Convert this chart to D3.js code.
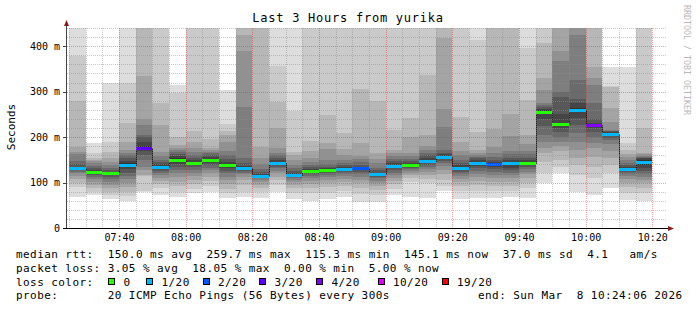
<!DOCTYPE html>
<html>
<head>
<meta charset="utf-8">
<script src="https://cdn.jsdelivr.net/npm/d3@7"></script>
<style>
  html, body { margin: 0; padding: 0; background: #fff; }
  svg { display: block; }
  text { font-family: "DejaVu Sans Mono", monospace; fill: #000; }
</style>
</head>
<body>
<svg id="chart" width="697" height="310"></svg>
<script>
// 5-minute steps, each column covers (end - 5 min, end]
const columnEnds = ["07:30", "07:35", "07:40", "07:45", "07:50", "07:55", "08:00", "08:05", "08:10", "08:15",
                    "08:20", "08:25", "08:30", "08:35", "08:40", "08:45", "08:50", "08:55", "09:00", "09:05",
                    "09:10", "09:15", "09:20", "09:25", "09:30", "09:35", "09:40", "09:45", "09:50", "09:55",
                    "10:00", "10:05", "10:10", "10:15", "10:20"];

// median rtt per column (ms)
const medianMs = [131, 124, 120, 139, 177, 134, 150, 144, 150, 139,
                  131, 115.3, 144, 117, 126, 127, 130, 131, 118, 136,
                  139, 148, 156, 133, 143, 140, 143, 144, 256, 229,
                  259.7, 226, 207, 130, 145.1];

// lost pings out of 20 per column
const lossPings = [1, 0, 0, 1, 3, 1, 0, 0, 0, 0,
                   1, 1, 1, 1, 0, 0, 1, 2, 1, 1,
                   0, 1, 1, 1, 1, 2, 1, 0, 0, 0,
                   1, 3.61, 1, 1, 1];

// the 20 sorted ping times per column (ms), used for the smoke
const pingsMs = [
  [68, 91, 100, 108, 115, 120, 124, 127, 129, 130, 132, 135, 140, 148, 162, 168, 179, 279, 378, 470],
  [72, 80, 88, 95, 102, 108, 113, 117, 120, 122, 125, 128, 132, 137, 142, 147, 150, 155, 165, 188],
  [63, 72, 80, 88, 95, 101, 107, 112, 116, 119, 121, 124, 128, 133, 139, 146, 155, 168, 190, 318],
  [60, 70, 80, 90, 100, 108, 115, 122, 130, 136, 142, 148, 154, 160, 166, 172, 190, 230, 318, 470],
  [80, 81, 115, 117, 128, 135, 150, 160, 170, 175, 180, 190, 200, 205, 226, 240, 335, 470, 480, 490],
  [72, 88, 97, 104, 110, 116, 121, 125, 129, 132, 136, 140, 145, 150, 158, 168, 226, 274, 460, 480],
  [69, 80, 92, 102, 112, 120, 127, 134, 140, 146, 153, 158, 163, 168, 172, 177, 183, 201, 296, 314],
  [77, 86, 96, 106, 115, 122, 128, 134, 138, 142, 146, 150, 155, 160, 167, 175, 190, 214, 460, 480],
  [80, 92, 103, 112, 120, 127, 133, 139, 144, 148, 152, 156, 160, 164, 168, 172, 177, 195, 460, 480],
  [65, 76, 86, 96, 105, 113, 120, 126, 132, 137, 141, 146, 152, 160, 170, 190, 204, 213, 228, 303],
  [69, 80, 95, 105, 112, 118, 122, 126, 129, 130, 132, 136, 142, 155, 267, 389, 425, 460, 470, 480],
  [67, 80, 88, 95, 101, 106, 109, 112, 114, 115, 116, 119, 123, 130, 140, 155, 179, 460, 470, 480],
  [80, 95, 105, 113, 120, 126, 131, 135, 139, 142, 146, 150, 155, 160, 166, 177, 220, 278, 357, 470],
  [63, 78, 87, 95, 101, 106, 110, 113, 115, 116, 118, 121, 125, 131, 138, 150, 161, 168, 257, 470],
  [60, 78, 88, 96, 103, 109, 114, 118, 122, 125, 127, 130, 134, 139, 146, 155, 170, 191, 460, 480],
  [64, 78, 90, 99, 106, 112, 117, 121, 124, 126, 128, 131, 135, 141, 150, 174, 187, 248, 460, 480],
  [69, 82, 92, 101, 108, 114, 119, 123, 126, 129, 131, 134, 138, 143, 150, 160, 174, 210, 460, 480],
  [57, 75, 88, 98, 106, 113, 119, 123, 127, 130, 132, 135, 139, 145, 152, 159, 187, 305, 460, 480],
  [58, 72, 83, 92, 99, 104, 109, 113, 116, 117, 119, 122, 127, 133, 142, 152, 165, 279, 460, 480],
  [73, 86, 96, 104, 111, 117, 122, 127, 131, 134, 138, 142, 147, 152, 158, 164, 172, 216, 460, 480],
  [69, 102, 110, 116, 121, 126, 130, 133, 136, 138, 140, 143, 147, 152, 158, 164, 201, 243, 460, 480],
  [67, 98, 108, 116, 123, 129, 134, 138, 142, 145, 150, 155, 160, 166, 172, 180, 204, 336, 460, 480],
  [82, 92, 105, 118, 128, 136, 142, 147, 151, 154, 158, 162, 166, 172, 223, 262, 418, 460, 470, 480],
  [64, 81, 92, 101, 108, 114, 119, 124, 128, 131, 135, 139, 144, 150, 160, 170, 190, 245, 460, 480],
  [66, 82, 94, 104, 112, 119, 125, 131, 136, 140, 145, 149, 153, 157, 161, 166, 172, 212, 413, 480],
  [67, 82, 92, 102, 110, 117, 123, 129, 134, 138, 142, 146, 150, 156, 166, 178, 217, 460, 470, 480],
  [69, 82, 92, 101, 109, 116, 122, 128, 133, 140, 146, 150, 155, 162, 170, 202, 250, 460, 470, 480],
  [66, 88, 100, 110, 118, 124, 129, 134, 138, 142, 146, 150, 155, 162, 170, 185, 205, 281, 396, 480],
  [100, 121, 146, 165, 175, 190, 205, 225, 240, 252, 259, 262, 266, 270, 274, 303, 329, 408, 460, 480],
  [120, 135, 150, 170, 180, 190, 200, 212, 220, 226, 232, 250, 289, 300, 367, 389, 460, 465, 470, 480],
  [80, 117, 139, 155, 172, 190, 210, 227, 243, 255, 265, 275, 283, 325, 425, 460, 465, 470, 475, 480],
  [73, 110, 135, 157, 175, 186, 201, 212, 220, 224, 228, 232, 240, 274, 314, 329, 354, 460, 470, 480],
  [88, 121, 139, 153, 170, 185, 194, 198, 202, 205, 209, 211, 213, 214, 216, 234, 263, 311, 313, 354],
  [62, 78, 90, 100, 108, 114, 119, 123, 127, 129, 131, 134, 138, 144, 150, 156, 163, 172, 186, 354],
  [60, 76, 88, 98, 106, 113, 119, 125, 131, 138, 150, 153, 155, 157, 159, 162, 164, 219, 460, 480]
];

// loss colour legend
const lossLevels = [0, 1, 2, 3, 4, 10, 19];
const lossLabels = ["0", "1/20", "2/20", "3/20", "4/20", "10/20", "19/20"];
const lossColors = ["#26ff00", "#00b8ff", "#0059ff", "#5e00ff", "#7e00ff", "#dd00ff", "#ff0000"];

// y ticks (ms) and their labels
const yMajorTicks = [0, 100, 200, 300, 400];
const yTickLabels = ["0", "100 m", "200 m", "300 m", "400 m"];

const titleText = "Last 3 Hours from yurika";
const legendLines = [
  "median rtt:  150.0 ms avg  259.7 ms max  115.3 ms min  145.1 ms now  37.0 ms sd  4.1   am/s",
  "packet loss: 3.05 % avg  18.05 % max  0.00 % min  5.00 % now",
  "loss color:",
  "probe:       20 ICMP Echo Pings (56 Bytes) every 300s"
];
const endText = "end: Sun Mar  8 10:24:06 2026";

// ---------------------------------------------------------------
const W = 697, H = 310;
const plotL = 66, plotR = 666, plotT = 28, plotB = 228;

const tStart = new Date(Date.UTC(2026, 2, 8, 7, 24, 6));
const tEnd = new Date(Date.UTC(2026, 2, 8, 10, 24, 6));
const toTime = hm => {
  const [h, m] = hm.split(":").map(Number);
  return new Date(Date.UTC(2026, 2, 8, h, m));
};

const rows = columnEnds.map((hm, i) => {
  const end = toTime(hm);
  const start = new Date(Math.max(+end - 300000, +tStart));
  return { start, end, median: medianMs[i], loss: lossPings[i], pings: pingsMs[i] };
});

const x = d3.scaleUtc().domain([tStart, tEnd]).range([plotL, plotR]);
const y = d3.scaleLinear().domain([0, 440]).range([plotB, plotT]);

const svg = d3.select("#chart");
svg.append("rect").attr("width", W).attr("height", H).attr("fill", "#fff");

svg.append("defs").append("clipPath").attr("id", "plot")
  .append("rect").attr("x", plotL).attr("y", plotT)
  .attr("width", plotR - plotL).attr("height", plotB - plotT);

// smoke: band i spans ping i .. ping 21-i, darker towards the middle
const smokeColor = i => {
  const c = Math.floor(190 / 10 * (10 - i)) + 50;
  return d3.rgb(c, c, c).formatHex();
};
const bands = rows.flatMap(r => d3.range(1, 11).map(i => ({
  x0: Math.round(x(r.start)), x1: Math.round(x(r.end)),
  lo: r.pings[i - 1], hi: r.pings[20 - i], i
})));

svg.append("g")
  .attr("clip-path", "url(#plot)")
  .attr("shape-rendering", "crispEdges")
  .selectAll("rect")
  .data(bands)
  .join("rect")
  .attr("x", d => d.x0)
  .attr("width", d => d.x1 - d.x0)
  .attr("y", d => y(d.hi))
  .attr("height", d => y(d.lo) - y(d.hi))
  .attr("fill", d => smokeColor(d.i));

// median step line
const stepPts = rows.flatMap(r => [[Math.round(x(r.start)), r.median], [Math.round(x(r.end)), r.median]]);
svg.append("path")
  .attr("d", d3.line().x(d => d[0] + 0.5).y(d => Math.round(y(d[1])) + 0.5)(stepPts))
  .attr("fill", "none")
  .attr("stroke", "#202020")
  .attr("stroke-width", 1);

// median coloured by loss
const lossColor = l => {
  let k = 0;
  while (k < lossLevels.length - 1 && l > lossLevels[k]) k++;
  return lossColors[k];
};
svg.append("g")
  .attr("shape-rendering", "crispEdges")
  .selectAll("rect")
  .data(rows)
  .join("rect")
  .attr("x", d => Math.round(x(d.start)))
  .attr("width", d => Math.round(x(d.end)) - Math.round(x(d.start)))
  .attr("y", d => Math.round(y(d.median)) - 1)
  .attr("height", 3)
  .attr("fill", d => lossColor(d.loss));

// grid (drawn over the data, like rrdtool)
const grid = svg.append("g").attr("stroke-dasharray", "1,1").attr("stroke-width", 1);
const minorY = d3.range(20, 441, 20).filter(v => v % 100 !== 0);
const majorY = yMajorTicks.filter(v => v > 0);
const minorX = d3.utcMinute.every(5).range(tStart, tEnd).filter(t => t.getUTCMinutes() % 20 !== 0);
const majorX = d3.utcMinute.every(20).range(tStart, tEnd);

grid.selectAll(".hmin").data(minorY).join("line")
  .attr("x1", plotL + 1).attr("x2", plotR)
  .attr("y1", d => Math.round(y(d)) + 0.5).attr("y2", d => Math.round(y(d)) + 0.5)
  .attr("stroke", "rgba(143,143,143,0.5)");
grid.selectAll(".vmin").data(minorX).join("line")
  .attr("x1", d => Math.round(x(d)) + 0.5).attr("x2", d => Math.round(x(d)) + 0.5)
  .attr("y1", plotT).attr("y2", plotB)
  .attr("stroke", "rgba(143,143,143,0.5)");
grid.selectAll(".hmaj").data(majorY).join("line")
  .attr("x1", plotL + 1).attr("x2", plotR)
  .attr("y1", d => Math.round(y(d)) + 0.5).attr("y2", d => Math.round(y(d)) + 0.5)
  .attr("stroke", "rgba(222,48,48,0.45)");
grid.selectAll(".vmaj").data(majorX).join("line")
  .attr("x1", d => Math.round(x(d)) + 0.5).attr("x2", d => Math.round(x(d)) + 0.5)
  .attr("y1", plotT).attr("y2", plotB)
  .attr("stroke", "rgba(222,48,48,0.45)");

// axes
const axisG = svg.append("g").attr("shape-rendering", "crispEdges");
axisG.append("line").attr("x1", plotL + 0.5).attr("x2", plotL + 0.5).attr("y1", plotB + 1).attr("y2", 22)
  .attr("stroke", "#444");
axisG.append("line").attr("x1", 63).attr("x2", 670).attr("y1", plotB + 0.5).attr("y2", plotB + 0.5)
  .attr("stroke", "#000");
axisG.selectAll(".ytick").data(majorY).join("line")
  .attr("x1", 63).attr("x2", plotL)
  .attr("y1", d => Math.round(y(d)) + 0.5).attr("y2", d => Math.round(y(d)) + 0.5)
  .attr("stroke", "#444");
svg.append("path").attr("d", "M64,26L69,26L66.5,20Z").attr("fill", "#8b1a1a");
svg.append("path").attr("d", "M668,226L668,231L674,228.5Z").attr("fill", "#8b1a1a");

svg.append("g").selectAll("text").data(yMajorTicks).join("text")
  .attr("x", 60).attr("y", d => y(d) + 3.5)
  .attr("text-anchor", "end")
  .style("font-size", "10px")
  .text((d, i) => yTickLabels[i]);

svg.append("g").selectAll("text").data(majorX).join("text")
  .attr("x", d => x(d) + 0.5).attr("y", 241)
  .attr("text-anchor", "middle")
  .style("font-size", "10px")
  .text(d3.utcFormat("%H:%M"));

// titles
svg.append("text").attr("x", 348).attr("y", 22).attr("text-anchor", "middle")
  .style("font-size", "12px").style("letter-spacing", "0.75px")
  .text(titleText);
svg.append("text").attr("transform", "translate(15,127) rotate(-90)").attr("text-anchor", "middle")
  .style("font-size", "11px")
  .text("Seconds");
svg.append("text").attr("transform", "translate(684,5) rotate(90)")
  .style("font-size", "8.3px").style("fill", "#b8b8b8")
  .text("RRDTOOL / TOBI OETIKER");

// legend
const legendY = [258, 271.5, 285.5, 299];
svg.append("g").selectAll("text").data(legendLines).join("text")
  .attr("x", 16).attr("y", (d, i) => legendY[i])
  .attr("xml:space", "preserve")
  .style("white-space", "pre")
  .style("font-size", "11px").style("letter-spacing", "0.43px")
  .text(d => d);
svg.append("text").attr("x", 478).attr("y", legendY[3])
  .style("font-size", "11px").style("letter-spacing", "0.43px")
  .style("white-space", "pre").attr("xml:space", "preserve")
  .text(endText);

const boxX = [108, 146, 202.5, 259, 316, 377.5, 441.5];
const lg = svg.append("g");
lg.selectAll("rect").data(lossColors).join("rect")
  .attr("x", (d, i) => boxX[i] + 0.5).attr("y", 278.5)
  .attr("width", 6).attr("height", 6)
  .attr("fill", d => d).attr("stroke", "#000").attr("stroke-width", 1)
  .attr("shape-rendering", "crispEdges");
lg.selectAll("text").data(lossLabels).join("text")
  .attr("x", (d, i) => boxX[i] + 15.5).attr("y", legendY[2])
  .style("font-size", "11px").style("letter-spacing", "0.43px")
  .text(d => d);
</script>
</body>
</html>
